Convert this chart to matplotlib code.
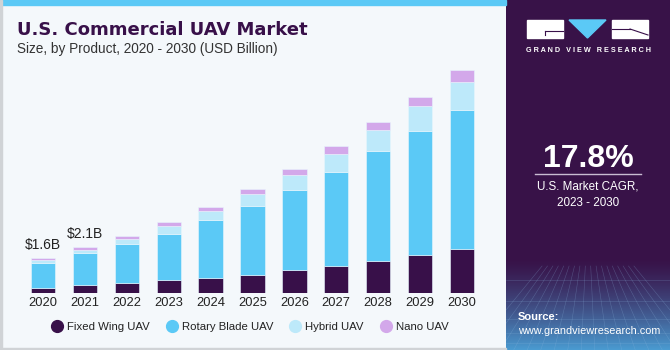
import numpy as np
import matplotlib
matplotlib.use("Agg")
from matplotlib import pyplot as plt
from matplotlib.lines import Line2D
from matplotlib.patches import Rectangle, Polygon

plt.rcParams['font.family'] = ['Liberation Sans', 'DejaVu Sans']

# data (USD billion)
years = ['2020', '2021', '2022', '2023', '2024', '2025', '2026', '2027', '2028', '2029', '2030']
fixed_wing = [0.24, 0.36, 0.45, 0.58, 0.70, 0.83, 1.06, 1.24, 1.47, 1.75, 2.01]
rotary_blade = [1.12, 1.46, 1.79, 2.15, 2.67, 3.19, 3.68, 4.34, 5.05, 5.69, 6.41]
hybrid = [0.15, 0.16, 0.24, 0.37, 0.41, 0.55, 0.69, 0.83, 0.97, 1.15, 1.29]
nano = [0.09, 0.12, 0.12, 0.15, 0.18, 0.22, 0.26, 0.35, 0.38, 0.44, 0.55]
series_names = ['Fixed Wing UAV', 'Rotary Blade UAV', 'Hybrid UAV', 'Nano UAV']
labels = {0: '$1.6B', 1: '$2.1B'}

colors = ['#381049', '#5BC9F6', '#BDE9FA', '#D3A8EA']
purple = '#381049'
bg = '#F4F8FB'

W, H = 670, 350
def fx(x): return x / W
def fy(y): return 1 - y / H

fig = plt.figure(figsize=(6.7, 3.5), dpi=100)
fig.patch.set_facecolor(bg)

# top blue strip and frame of left panel
fig.patches.append(Rectangle((0, fy(5)), fx(506), 5 / H, transform=fig.transFigure,
                             color='#5BC9F6', zorder=0))
fig.patches.append(Rectangle((0, 0), fx(2), 1, transform=fig.transFigure, color='#D0D3D6', zorder=0))
fig.patches.append(Rectangle((0, 0), fx(506), 2 / H, transform=fig.transFigure, color='#D0D3D6', zorder=0))

# bar chart
ax = fig.add_axes([fx(18), fy(293), 469 / W, 261 / H])
ax.set_facecolor(bg)
x = np.arange(len(years))
bottom = np.zeros(len(years))
for vals, c, name in zip([fixed_wing, rotary_blade, hybrid, nano], colors, series_names):
    ax.bar(x, vals, 0.58, bottom=bottom, color=c, label=name, edgecolor='#E8F6FD', linewidth=0.4)
    bottom += np.array(vals)
for i, t in labels.items():
    ax.text(x[i], bottom[i] + 0.3, t, ha='center', va='bottom', fontsize=10, color='#222222')
ax.set_xlim(-0.6, 10.6)
ax.set_ylim(0, 12)
ax.set_xticks(x)
ax.set_xticklabels(years, fontsize=9.3, color='#222222')
ax.tick_params(axis='x', length=0, pad=3)
ax.set_yticks([])
for s in ax.spines.values():
    s.set_visible(False)

# title
fig.text(fx(17), fy(35), 'U.S. Commercial UAV Market', fontsize=13, fontweight='bold',
         family=['DejaVu Sans'], color=purple, va='baseline')
fig.text(fx(17), fy(53), 'Size, by Product, 2020 - 2030 (USD Billion)', fontsize=9.8,
         color='#333333', va='baseline')

# legend
handles = [Line2D([], [], marker='o', linestyle='', markersize=8.5, color=c) for c in colors]
fig.legend(handles, series_names, loc='center left', bbox_to_anchor=(fx(51), fy(327)),
           ncol=4, frameon=False, fontsize=8.2, handlelength=1.0, handletextpad=0.38,
           columnspacing=1.45, borderpad=0, borderaxespad=0, labelcolor='#222222')

# right panel
pax = fig.add_axes([fx(506), 0, 164 / W, 1])
grad = np.linspace(0, 1, 350)
grad = np.clip((grad - 0.74) / 0.26, 0, 1) ** 1.3
top_c = np.array([0x38, 0x12, 0x48]) / 255
bot_c = np.array([0x4A, 0x9A, 0xD0]) / 255
img = top_c[None, :] * (1 - grad[:, None]) + bot_c[None, :] * grad[:, None]
img = np.repeat(img[:, None, :], 10, axis=1)
pax.imshow(img, aspect='auto', extent=[0, 1, 0, 1], origin='upper')
# faint grid in the bottom area
for gx in np.linspace(-0.2, 1.2, 18):
    pax.plot([0.5 + (gx - 0.5) * 0.4, gx], [0.24, 0], color='#8FB8E0', lw=0.4, alpha=0.3)
for gy in [0.02, 0.05, 0.09, 0.14, 0.2]:
    pax.plot([0, 1], [gy, gy], color='#8FB8E0', lw=0.4, alpha=0.3)
pax.set_xlim(0, 1)
pax.set_ylim(0, 1)
pax.axis('off')

# logo
fig.patches.append(Rectangle((fx(527), fy(38)), 36 / W, 18 / H, transform=fig.transFigure,
                             color='white', zorder=3))
fig.patches.append(Polygon([(fx(569), fy(20)), (fx(606), fy(20)), (fx(587.5), fy(38))],
                           closed=True, transform=fig.transFigure, color='#5BC9F6', zorder=3))
fig.patches.append(Rectangle((fx(612), fy(38)), 36 / W, 18 / H, transform=fig.transFigure,
                             color='white', zorder=3))
fig.lines.append(Line2D([fx(545), fx(563)], [fy(31), fy(31)], transform=fig.transFigure,
                        color=purple, lw=0.8, zorder=4))
fig.lines.append(Line2D([fx(545), fx(545)], [fy(31), fy(35)], transform=fig.transFigure,
                        color=purple, lw=0.8, zorder=4))
fig.lines.append(Line2D([fx(612), fx(630)], [fy(29), fy(29)], transform=fig.transFigure,
                        color=purple, lw=0.8, zorder=4))
fig.lines.append(Line2D([fx(630), fx(648)], [fy(29), fy(35)], transform=fig.transFigure,
                        color=purple, lw=0.8, zorder=4))
fig.text(fx(588), fy(51), 'G R A N D   V I E W   R E S E A R C H', fontsize=5.2, fontweight='bold',
         color='white', ha='center', va='center')

fig.text(fx(588), fy(167), '17.8%', fontsize=23, fontweight='bold', color='white',
         ha='center', va='baseline')
fig.lines.append(Line2D([fx(535), fx(641)], [fy(174), fy(174)], transform=fig.transFigure,
                        color='#C9BCD2', lw=1))
fig.text(fx(588), fy(190), 'U.S. Market CAGR,', fontsize=8.4, color='white', ha='center', va='baseline')
fig.text(fx(588), fy(206), '2023 - 2030', fontsize=8.4, color='white', ha='center', va='baseline')

fig.text(fx(518), fy(320), 'Source:', fontsize=8, fontweight='bold', color='white', va='baseline')
fig.text(fx(518), fy(334), 'www.grandviewresearch.com', fontsize=7.8, color='white', va='baseline')

fig.savefig('out.png', dpi=100, facecolor=fig.get_facecolor())
